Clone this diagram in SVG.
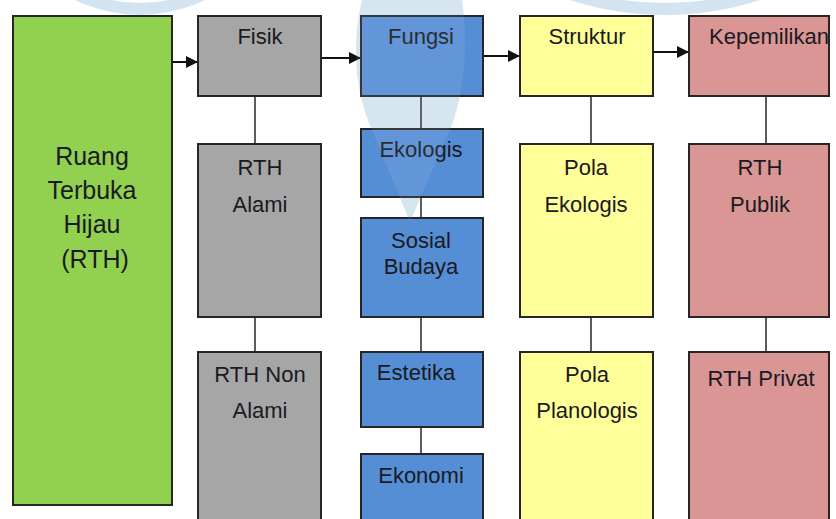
<svg xmlns="http://www.w3.org/2000/svg" width="836" height="519" viewBox="0 0 836 519">
<style>
  .box { stroke: #262626; stroke-width: 2; }
  .green { fill: #92D050; }
  .gray { fill: #A6A6A6; }
  .blue { fill: #558ED5; }
  .yellow { fill: #FFFF99; }
  .pink { fill: #D99694; }
  text { font-family: "Liberation Sans", Arial, sans-serif; font-size: 22px; fill: #1a1a22; text-anchor: middle; }
  .big { font-size: 25px; }
  .arrow { stroke: #111; stroke-width: 2; fill: none; marker-end: url(#ah); }
  .link { stroke: #262626; stroke-width: 1.5; fill: none; }
  .wm { fill: #D3E4F0; }
  .wmring { fill: none; stroke: #D3E4F0; stroke-width: 12; }
  .wmover { fill: #ffffff; opacity: 0.08; }
</style>
<defs>
  <marker id="ah" markerWidth="12" markerHeight="12" refX="11" refY="6" orient="auto" markerUnits="userSpaceOnUse">
    <path d="M0,0 L12,6 L0,12 Z" fill="#111"/>
  </marker>
</defs>
<rect width="836" height="519" fill="#ffffff"/>

<g id="watermark">
  <circle class="wmring" cx="140" cy="-133" r="142"/>
  <circle class="wmring" cx="665" cy="-293" r="302"/>
  <path class="wm" d="M362,0 C352,40 354,90 372,130 L410,222 L450,130 C466,90 468,40 462,0 Z"/>
</g>

<g id="connectors">
  <line class="arrow" x1="172" y1="62" x2="197" y2="62"/>
  <line class="arrow" x1="321" y1="58" x2="360" y2="58"/>
  <line class="arrow" x1="483" y1="56" x2="519" y2="56"/>
  <line class="arrow" x1="653" y1="52" x2="688" y2="52"/>
  <line class="link" x1="255" y1="96" x2="255" y2="144"/>
  <line class="link" x1="255" y1="317" x2="255" y2="352"/>
  <line class="link" x1="421" y1="96" x2="421" y2="129"/>
  <line class="link" x1="421" y1="197" x2="421" y2="218"/>
  <line class="link" x1="421" y1="317" x2="421" y2="352"/>
  <line class="link" x1="421" y1="427" x2="421" y2="454"/>
  <line class="link" x1="591" y1="96" x2="591" y2="144"/>
  <line class="link" x1="591" y1="317" x2="591" y2="352"/>
  <line class="link" x1="766" y1="96" x2="766" y2="144"/>
  <line class="link" x1="766" y1="317" x2="766" y2="352"/>
</g>

<g id="rth">
  <rect class="box green" x="13" y="16" width="159" height="489"/>
  <text class="big" x="92" y="165">Ruang</text>
  <text class="big" x="92" y="199">Terbuka</text>
  <text class="big" x="92" y="233">Hijau</text>
  <text class="big" x="95" y="268">(RTH)</text>
</g>

<g id="fisik">
  <rect class="box gray" x="198" y="16" width="123" height="80"/>
  <text x="260" y="44">Fisik</text>
</g>
<g id="rth-alami">
  <rect class="box gray" x="198" y="144" width="123" height="173"/>
  <text x="260" y="175">RTH</text>
  <text x="260" y="212">Alami</text>
</g>
<g id="rth-non-alami">
  <rect class="box gray" x="198" y="352" width="123" height="180"/>
  <text x="260" y="382">RTH Non</text>
  <text x="260" y="418">Alami</text>
</g>

<g id="fungsi">
  <rect class="box blue" x="361" y="16" width="122" height="80"/>
  <text x="421" y="44">Fungsi</text>
</g>
<g id="ekologis">
  <rect class="box blue" x="361" y="129" width="122" height="68"/>
  <text x="421" y="157">Ekologis</text>
</g>
<g id="sosial-budaya">
  <rect class="box blue" x="361" y="218" width="122" height="99"/>
  <text x="421" y="248">Sosial</text>
  <text x="421" y="274">Budaya</text>
</g>
<g id="estetika">
  <rect class="box blue" x="361" y="352" width="122" height="75"/>
  <text x="416" y="380">Estetika</text>
</g>
<g id="ekonomi">
  <rect class="box blue" x="361" y="454" width="122" height="80"/>
  <text x="421" y="483">Ekonomi</text>
</g>

<g id="struktur">
  <rect class="box yellow" x="520" y="16" width="133" height="80"/>
  <text x="587" y="44">Struktur</text>
</g>
<g id="pola-ekologis">
  <rect class="box yellow" x="520" y="144" width="133" height="173"/>
  <text x="586" y="175">Pola</text>
  <text x="586" y="212">Ekologis</text>
</g>
<g id="pola-planologis">
  <rect class="box yellow" x="520" y="352" width="133" height="180"/>
  <text x="587" y="382">Pola</text>
  <text x="587" y="418">Planologis</text>
</g>

<g id="kepemilikan">
  <rect class="box pink" x="689" y="16" width="140" height="80"/>
  <text x="769" y="44">Kepemilikan</text>
</g>
<g id="rth-publik">
  <rect class="box pink" x="689" y="144" width="140" height="173"/>
  <text x="760" y="175">RTH</text>
  <text x="760" y="212">Publik</text>
</g>
<g id="rth-privat">
  <rect class="box pink" x="689" y="352" width="140" height="180"/>
  <text x="761" y="386">RTH Privat</text>
</g>

<g id="watermark-overlay">
  <path class="wmover" d="M362,0 C352,40 354,90 372,130 L410,222 L450,130 C466,90 468,40 462,0 Z"/>
</g>
</svg>
